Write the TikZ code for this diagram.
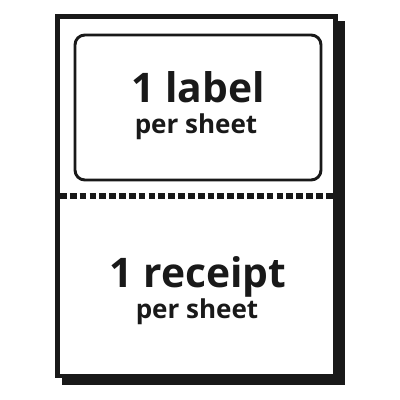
\documentclass[tikz,border=0pt]{standalone}
\usepackage{fontspec}
\setsansfont{Open Sans}
\usepackage{tikz}
\usetikzlibrary{positioning, calc}
\tikzset{
  sheet/.style={draw=black!90, fill=white, line width=3.5pt},
  shadow/.style={fill=black!90, draw=none},
  labelbox/.style={draw=black!90, line width=2.1pt, rounded corners=7pt},
  perf/.style={draw=black!90, line width=4pt, dash pattern=on 4.8pt off 2.2pt},
  bigtext/.style={inner sep=0pt, anchor=base, font=\sffamily\bfseries\fontsize{29}{29}\selectfont, text=black!90},
  smalltext/.style={inner sep=0pt, anchor=base, font=\sffamily\bfseries\fontsize{18.5}{18.5}\selectfont, text=black!90},
}
\begin{document}
\begin{tikzpicture}[x=0.025cm, y=-0.025cm]
  \useasboundingbox (0,0) rectangle (400,400);
  % Sheet
  \fill[shadow] (62,21) rectangle (345,385);
  \draw[sheet] (57.5,16.5) rectangle (335.5,376);
  \draw[labelbox] (75,35) rectangle (321,180);

  % Nodes
  \coordinate (perfl) at (60,196);
  \coordinate (perfr) at (333.5,196);
  \node[bigtext] (label) at (198,103) {1 label};
  \node[smalltext] (labelsub) at (196,134) {per sheet};
  \node[bigtext] (receipt) at (198,287) {1 receipt};
  \node[smalltext] (receiptsub) at (197,318) {per sheet};

  % Perforation
  \draw[perf] (perfl) -- (perfr);
\end{tikzpicture}
\end{document}
